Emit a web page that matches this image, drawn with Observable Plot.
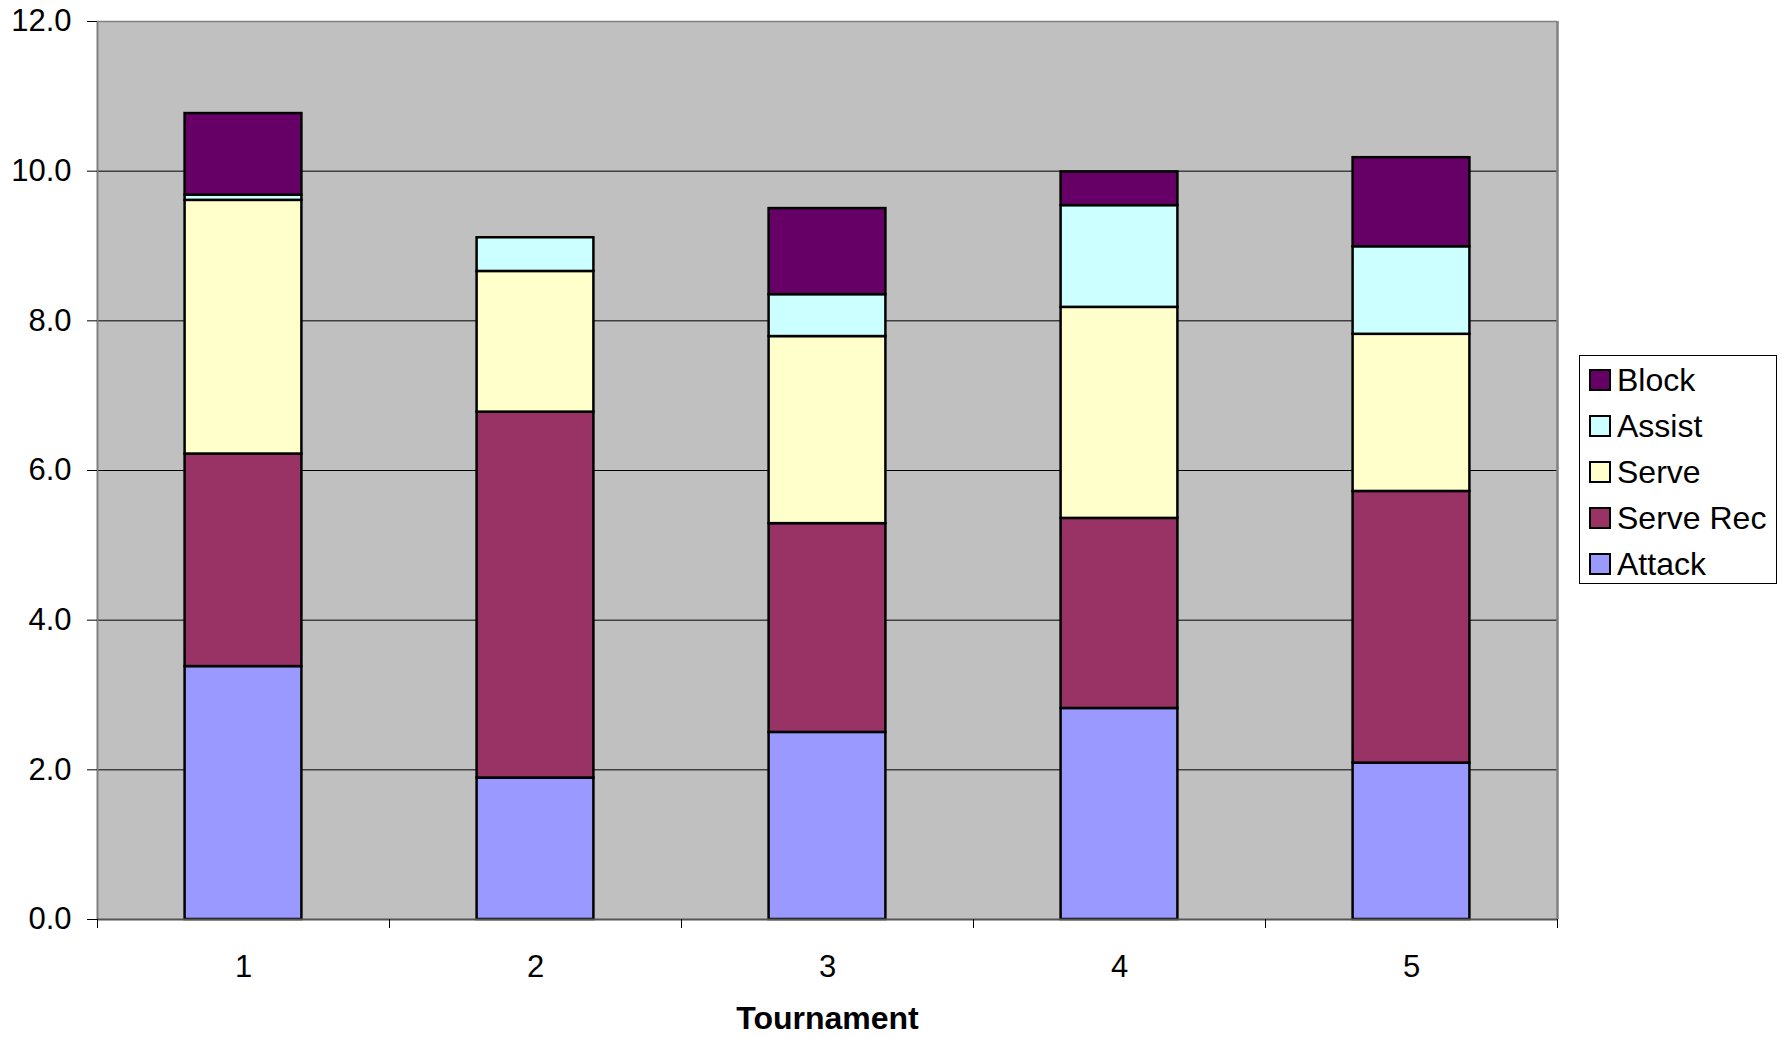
<!DOCTYPE html>
<html>
<head>
<meta charset="utf-8">
<script src="https://cdn.jsdelivr.net/npm/d3@7"></script>
<script src="https://cdn.jsdelivr.net/npm/@observablehq/plot@0.6"></script>
<style>
  html, body { margin: 0; padding: 0; background: #fff; }
  #wrap { position: relative; width: 1784px; height: 1038px; font-family: "Liberation Sans", Arial, sans-serif; }
  #legend { position: absolute; left: 1579px; top: 355px; width: 198px; height: 229px; border: 1px solid #000; box-sizing: border-box; background: #fff; }
  .item { position: absolute; left: 9px; height: 30px; display: flex; align-items: center; font-size: 32px; color: #000; white-space: nowrap; }
  .sw { width: 18px; height: 18px; border: 2px solid #000; margin-right: 6px; flex: none; }
</style>
</head>
<body>
<div id="wrap"><div id="chart"></div><div id="legend"></div></div>
<script>
const tournaments = [1, 2, 3, 4, 5];
const seriesNames = ["Attack", "Serve Rec", "Serve", "Assist", "Block"];
const attack   = [3.38, 1.89, 2.50, 2.82, 2.09];
const serveRec = [2.84, 4.89, 2.79, 2.54, 3.63];
const serve    = [3.39, 1.88, 2.50, 2.82, 2.10];
const assist   = [0.07, 0.45, 0.56, 1.36, 1.17];
const block    = [1.09, 0.00, 1.15, 0.45, 1.19];
const seriesColors = ["#9999FF", "#993366", "#FFFFCC", "#CCFFFF", "#660066"];
const yTicks = [0, 2, 4, 6, 8, 10, 12];
const xLabel = "Tournament";

const seriesValues = [attack, serveRec, serve, assist, block];
const halfBar = 0.2;

// build stacked table
const rows = [];
tournaments.forEach((t, i) => {
  let base = 0;
  seriesNames.forEach((s, j) => {
    const v = seriesValues[j][i];
    rows.push({t, series: s, y1: base, y2: base + v});
    base += v;
  });
});
const boundaries = tournaments.map(t => t - 0.5).concat([tournaments[tournaments.length - 1] + 0.5]);

const chart = Plot.plot({
  width: 1784,
  height: 1038,
  marginLeft: 97,
  marginRight: 227,
  marginTop: 21,
  marginBottom: 119,
  style: {fontFamily: "Liberation Sans, Arial, sans-serif", background: "transparent", color: "#000"},
  x: {type: "linear", domain: [boundaries[0], boundaries[boundaries.length - 1]]},
  y: {domain: [yTicks[0], yTicks[yTicks.length - 1]]},
  color: {domain: seriesNames, range: seriesColors},
  marks: [
    Plot.frame({fill: "#C0C0C0", stroke: null}),
    Plot.gridY(yTicks.slice(1, -1), {stroke: "#000", strokeOpacity: 1, strokeWidth: 1}),
    Plot.rect(rows, {
      x1: d => d.t - halfBar, x2: d => d.t + halfBar,
      y1: "y1", y2: "y2",
      fill: "series", stroke: "#000", strokeWidth: 2.5
    }),
    Plot.ruleY([yTicks[yTicks.length - 1]], {stroke: "#808080", strokeWidth: 1.5}),
    Plot.ruleX([boundaries[0]], {stroke: "#808080", strokeWidth: 2}),
    Plot.ruleX([boundaries[boundaries.length - 1]], {stroke: "#808080", strokeWidth: 2.5}),
    Plot.ruleY([0], {stroke: "#555", strokeWidth: 2}),
    Plot.axisY({ticks: yTicks, tickFormat: d3.format(".1f"), tickSize: 10, tickPadding: 16, fontSize: 31, label: null, stroke: "#000"}),
    Plot.axisX({ticks: boundaries, tickFormat: () => "", tickSize: 9, label: null, stroke: "#000"}),
    Plot.axisX({ticks: tournaments, tickFormat: d => String(d), tickSize: 0, tickPadding: 35, fontSize: 31, label: null}),
    Plot.text([xLabel], {frameAnchor: "bottom", dy: 99, lineAnchor: "middle", fontSize: 32, fontWeight: "bold", fill: "#000"})
  ]
});
document.getElementById("chart").appendChild(chart);

// legend (top to bottom: reversed stacking order)
const legend = document.getElementById("legend");
const order = seriesNames.map((s, i) => i).reverse();
order.forEach((idx, k) => {
  const item = document.createElement("div");
  item.className = "item";
  item.style.top = (9 + k * 46) + "px";
  const sw = document.createElement("span");
  sw.className = "sw";
  sw.style.background = seriesColors[idx];
  const lab = document.createElement("span");
  lab.textContent = seriesNames[idx];
  item.appendChild(sw);
  item.appendChild(lab);
  legend.appendChild(item);
});
</script>
</body>
</html>
